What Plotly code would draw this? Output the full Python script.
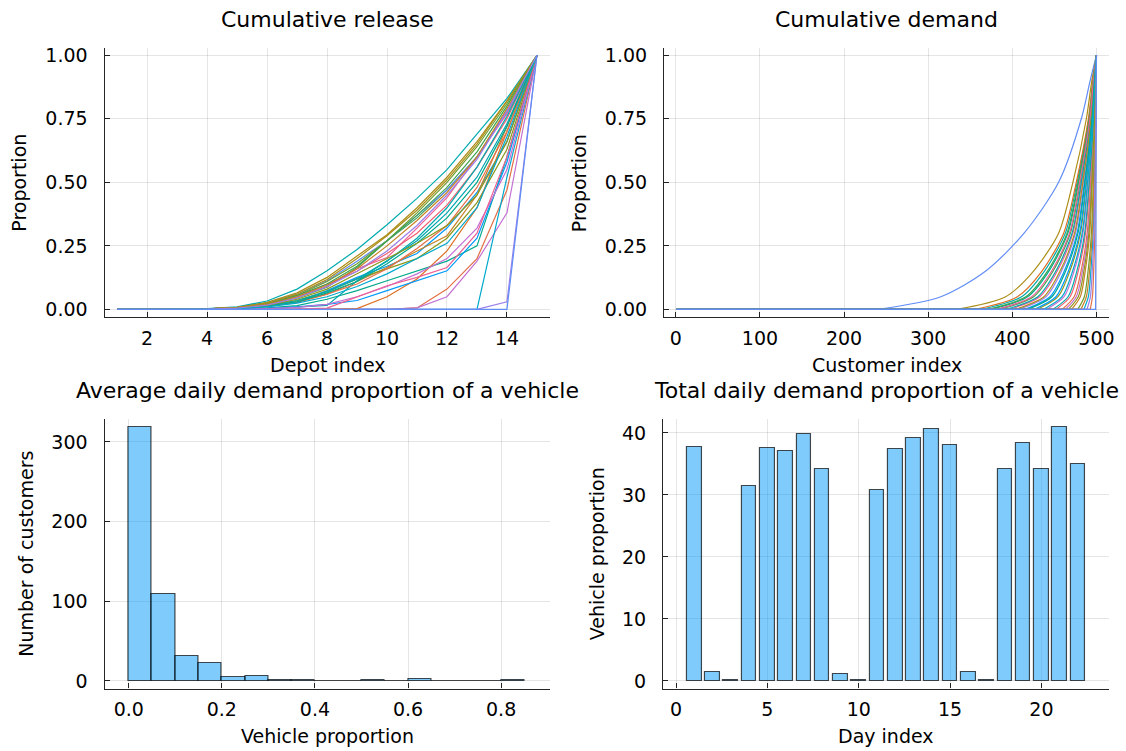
import plotly.graph_objects as go

# ---------------- data ----------------
palette = ["#009AFA", "#E36F47", "#3EA44E", "#C371D2", "#AC8E18", "#00AAAE",
           "#ED5E93", "#C68225", "#00A98D", "#8E971D", "#00A9CD", "#9B7FE9",
           "#618DF6", "#F05F73", "#DD7024", "#6F9E2E", "#00A5B2"]

depots = list(range(1, 16))
release_curves = [
    [0, 0, 0, 0.001, 0.004, 0.012, 0.030, 0.074, 0.126, 0.170, 0.220, 0.320, 0.460, 0.660, 1],
    [0, 0, 0, 0, 0, 0, 0, 0, 0, 0, 0.006, 0.080, 0.200, 0.470, 1],
    [0, 0, 0, 0.002, 0.006, 0.020, 0.045, 0.087, 0.165, 0.270, 0.360, 0.470, 0.600, 0.780, 1],
    [0, 0, 0, 0, 0, 0, 0, 0, 0, 0, 0.006, 0.050, 0.190, 0.380, 1],
    [0, 0, 0, 0.002, 0.008, 0.028, 0.065, 0.126, 0.210, 0.294, 0.400, 0.520, 0.660, 0.820, 1],
    [0, 0, 0, 0.003, 0.010, 0.033, 0.080, 0.152, 0.236, 0.333, 0.437, 0.550, 0.690, 0.830, 1],
    [0, 0, 0, 0.002, 0.006, 0.020, 0.050, 0.090, 0.160, 0.204, 0.320, 0.440, 0.600, 0.770, 1],
    [0, 0, 0, 0.001, 0.004, 0.012, 0.030, 0.060, 0.110, 0.165, 0.230, 0.290, 0.450, 0.720, 1],
    [0, 0, 0, 0, 0.002, 0.006, 0.015, 0.040, 0.074, 0.113, 0.150, 0.190, 0.250, 0.600, 1],
    [0, 0, 0, 0.001, 0.005, 0.015, 0.035, 0.070, 0.120, 0.160, 0.200, 0.280, 0.420, 0.630, 1],
    [0, 0, 0, 0, 0, 0, 0, 0, 0, 0, 0, 0, 0, 0.520, 1],
    [0, 0, 0, 0, 0, 0, 0, 0, 0, 0, 0, 0, 0, 0.030, 1],
    [0, 0, 0, 0.002, 0.007, 0.025, 0.060, 0.113, 0.190, 0.270, 0.370, 0.470, 0.600, 0.780, 1],
    [0, 0, 0, 0.002, 0.007, 0.022, 0.050, 0.100, 0.150, 0.220, 0.300, 0.410, 0.560, 0.750, 1],
    [0, 0, 0, 0, 0, 0, 0, 0, 0.003, 0.050, 0.120, 0.230, 0.400, 0.700, 1],
    [0, 0, 0, 0.002, 0.008, 0.025, 0.055, 0.110, 0.180, 0.270, 0.380, 0.500, 0.640, 0.810, 1],
    [0, 0, 0, 0, 0.001, 0.003, 0.008, 0.016, 0.113, 0.190, 0.270, 0.380, 0.520, 0.730, 1],
    [0, 0, 0, 0, 0.001, 0.004, 0.010, 0.020, 0.035, 0.074, 0.113, 0.152, 0.280, 0.580, 1],
    [0, 0, 0, 0.001, 0.004, 0.012, 0.028, 0.060, 0.100, 0.160, 0.240, 0.330, 0.480, 0.700, 1],
    [0, 0, 0, 0.002, 0.007, 0.022, 0.055, 0.100, 0.170, 0.270, 0.370, 0.480, 0.620, 0.800, 1],
    [0, 0, 0, 0, 0.001, 0.003, 0.008, 0.020, 0.050, 0.090, 0.140, 0.200, 0.320, 0.550, 1],
    [0, 0, 0, 0.002, 0.008, 0.026, 0.060, 0.118, 0.200, 0.290, 0.390, 0.510, 0.650, 0.820, 1],
    [0, 0, 0, 0.001, 0.005, 0.015, 0.035, 0.070, 0.120, 0.190, 0.280, 0.400, 0.560, 0.760, 1],
    [0, 0, 0, 0, 0, 0, 0.001, 0.005, 0.048, 0.093, 0.126, 0.165, 0.300, 0.600, 1],
    [0, 0, 0, 0.002, 0.007, 0.020, 0.050, 0.095, 0.160, 0.250, 0.350, 0.460, 0.600, 0.790, 1],
    [0, 0, 0, 0.001, 0.004, 0.013, 0.030, 0.065, 0.110, 0.180, 0.260, 0.360, 0.500, 0.720, 1],
    [0, 0, 0, 0.001, 0.005, 0.016, 0.040, 0.080, 0.140, 0.200, 0.260, 0.330, 0.450, 0.660, 1],
    [0, 0, 0, 0.001, 0.003, 0.010, 0.025, 0.050, 0.090, 0.140, 0.200, 0.260, 0.400, 0.680, 1],
    [0, 0, 0, 0.001, 0.005, 0.017, 0.045, 0.090, 0.150, 0.230, 0.330, 0.450, 0.590, 0.780, 1],
    [0, 0, 0, 0, 0, 0, 0, 0, 0, 0, 0, 0, 0, 0, 1],
]

# cumulative demand: customer index at which each curve reaches these proportions
n_customers = 500
demand_levels = [0.0, 0.05, 0.15, 0.30, 0.50, 0.75, 0.90]
demand_level_positions = [
    [414.5, 444.7, 461.6, 477.0, 485.6, 494.4, 497.5],
    [459.1, 473.5, 481.6, 489.0, 493.1, 497.3, 498.8],
    [384.8, 425.4, 448.3, 469.0, 480.6, 492.4, 496.6],
    [440.5, 461.5, 473.3, 484.0, 490.0, 496.1, 498.2],
    [333.0, 392.0, 425.0, 455.0, 472.0, 488.0, 494.5],
    [362.5, 411.0, 438.0, 463.0, 477.0, 491.0, 495.9],
    [396.0, 432.7, 453.3, 472.0, 482.5, 493.1, 496.9],
    [470.3, 480.8, 486.6, 492.0, 495.0, 498.0, 499.1],
    [373.6, 418.2, 443.3, 466.0, 478.8, 491.7, 496.3],
    [429.4, 454.3, 468.3, 481.0, 488.1, 495.3, 497.9],
    [485.1, 490.4, 493.3, 496.0, 497.5, 499.0, 499.6],
    [407.0, 440.0, 458.3, 475.0, 484.4, 493.9, 497.3],
    [240.0, 315.0, 368.0, 414.0, 455.0, 482.0, 492.5],
    [451.7, 468.7, 478.3, 487.0, 491.9, 496.8, 498.6],
    [355.0, 406.0, 435.0, 461.0, 476.0, 490.4, 495.7],
    [477.7, 485.6, 490.0, 494.0, 496.3, 498.5, 499.3],
    [392.2, 430.3, 451.6, 471.0, 481.9, 492.9, 496.8],
    [425.7, 451.9, 466.6, 480.0, 487.5, 495.1, 497.8],
    [492.6, 495.2, 496.7, 498.0, 498.8, 499.5, 499.8],
    [370.0, 416.0, 441.6, 465.0, 478.1, 491.4, 496.2],
    [462.8, 476.0, 483.3, 490.0, 493.8, 497.6, 498.9],
    [403.4, 437.5, 456.6, 474.0, 483.8, 493.6, 497.1],
    [448.0, 466.3, 476.6, 486.0, 491.3, 496.6, 498.5],
    [381.0, 423.0, 446.6, 468.0, 480.0, 492.2, 496.5],
    [481.4, 488.0, 491.7, 495.0, 496.9, 498.8, 499.5],
    [418.2, 447.1, 463.3, 478.0, 486.3, 494.6, 497.6],
    [466.5, 478.4, 485.0, 491.0, 494.4, 497.8, 499.0],
    [436.8, 459.1, 471.6, 483.0, 489.4, 495.8, 498.1],
    [488.8, 492.8, 495.0, 497.0, 498.1, 499.3, 499.7],
    [499.0, 499.05, 499.15, 499.3, 499.5, 499.75, 499.9],
]

# histogram of average daily demand proportion (bin width 0.05)
hist_bin_left = [0.00, 0.05, 0.10, 0.15, 0.20, 0.25, 0.30, 0.35, 0.40, 0.45,
                 0.50, 0.55, 0.60, 0.65, 0.70, 0.75, 0.80]
hist_counts = [319, 109, 31, 23, 5, 6, 1, 1, 0, 0, 1, 0, 2, 0, 0, 0, 1]
hist_bin_width = 0.05

# total daily demand proportion
days = list(range(1, 23))
day_totals = [37.7, 1.5, 0.1, 31.5, 37.5, 37.1, 39.8, 34.2, 1.1, 0.1, 30.8,
              37.4, 39.1, 40.6, 38.0, 1.4, 0.1, 34.2, 38.3, 34.1, 41.0, 34.9]

# ---------------- figure ----------------
W, H = 1126, 751
FONT = "DejaVu Sans"
TICK = 19
GUIDE = 19
TITLE = 22

fig = go.Figure()

for i, row in enumerate(release_curves):
    fig.add_trace(go.Scatter(x=depots, y=row, mode="lines",
                             line=dict(color=palette[i % 17], width=1.2),
                             xaxis="x", yaxis="y", showlegend=False))

n_dem = len(demand_level_positions)
for i, pos in enumerate(demand_level_positions):
    col = palette[i % 17]
    last = (i == n_dem - 1)
    if last:
        fig.add_trace(go.Scatter(x=[1] + pos + [n_customers],
                                 y=[0.0] + demand_levels + [1.0], mode="lines",
                                 line=dict(color=col, width=1.2),
                                 xaxis="x2", yaxis="y2", showlegend=False))
    else:
        # flat part before the rise
        fig.add_trace(go.Scatter(x=[1, pos[0]], y=[0.0, demand_levels[0]], mode="lines",
                                 line=dict(color=col, width=1.2),
                                 xaxis="x2", yaxis="y2", showlegend=False))
        # rising part
        fig.add_trace(go.Scatter(x=pos + [n_customers], y=demand_levels + [1.0], mode="lines",
                                 line=dict(color=col, width=1.2, shape="spline", smoothing=0.8),
                                 xaxis="x2", yaxis="y2", showlegend=False))

fig.add_trace(go.Bar(x=[b + hist_bin_width / 2 for b in hist_bin_left], y=hist_counts,
                     width=hist_bin_width,
                     marker=dict(color="rgba(0,154,250,0.5)",
                                 line=dict(color="rgba(0,0,0,0.7)", width=1.2)),
                     xaxis="x3", yaxis="y3", showlegend=False))

fig.add_trace(go.Bar(x=days, y=day_totals, width=0.8,
                     marker=dict(color="rgba(0,154,250,0.5)",
                                 line=dict(color="rgba(0,0,0,0.7)", width=1.2)),
                     xaxis="x4", yaxis="y4", showlegend=False))


def px_x(p):
    return p / W


def px_y(p):
    return 1 - p / H


def axis(domain, rng, tickvals, ticktext=None, anchor=None, standoff=10):
    d = dict(domain=domain, range=rng, tickvals=tickvals,
             showgrid=True, gridcolor="rgba(0,0,0,0.1)", gridwidth=1,
             zeroline=False, showline=True, linecolor="rgba(0,0,0,0.85)", linewidth=1.2,
             ticks="inside", ticklen=5, tickwidth=1.2, tickcolor="rgba(0,0,0,0.85)",
             tickfont=dict(family=FONT, size=TICK, color="black"),
             ticklabelstandoff=standoff, anchor=anchor, fixedrange=True)
    if ticktext is not None:
        d["ticktext"] = ticktext
    return d


xl = [px_x(105), px_x(552)]
xr1 = [px_x(667), px_x(1114)]
xr2 = [px_x(666), px_x(1114)]
yt = [px_y(316), px_y(44)]
yb = [px_y(691), px_y(419)]

prop_ticks = [0, 0.25, 0.5, 0.75, 1.0]
prop_text = ["0.00", "0.25", "0.50", "0.75", "1.00"]

fig.update_layout(
    width=W, height=H, margin=dict(l=0, r=0, t=0, b=0),
    paper_bgcolor="white", plot_bgcolor="white",
    font=dict(family=FONT, color="black"),
    bargap=0,
    xaxis=axis(xl, [0.58, 15.42], [2, 4, 6, 8, 10, 12, 14], anchor="y", standoff=4),
    yaxis=axis(yt, [-0.03, 1.03], prop_ticks, prop_text, anchor="x", standoff=12),
    xaxis2=axis(xr1, [-13.97, 514.97], [0, 100, 200, 300, 400, 500], anchor="y2", standoff=4),
    yaxis2=axis(yt, [-0.03, 1.03], prop_ticks, prop_text, anchor="x2", standoff=12),
    xaxis3=axis(xl, [-0.052, 0.904], [0, 0.2, 0.4, 0.6, 0.8],
                ["0.0", "0.2", "0.4", "0.6", "0.8"], anchor="y3", standoff=4),
    yaxis3=axis(yb, [-9.57, 328.6], [0, 100, 200, 300], anchor="x3", standoff=12),
    xaxis4=axis(xr2, [-0.71, 23.7], [0, 5, 10, 15, 20], anchor="y4", standoff=4),
    yaxis4=axis(yb, [-1.23, 42.23], [0, 10, 20, 30, 40], anchor="x4", standoff=12),
)

anns = []


def ann(text, x, y, size, angle=0):
    anns.append(dict(text=text, x=px_x(x), y=px_y(y), xref="paper", yref="paper",
                     showarrow=False, xanchor="center", yanchor="middle",
                     textangle=angle, font=dict(family=FONT, size=size, color="black")))


ann("Cumulative release", 328.5, 16, TITLE)
ann("Cumulative demand", 890.5, 16, TITLE)
ann("Average daily demand proportion of a vehicle", 328.5, 390, TITLE)
ann("Total daily demand proportion of a vehicle", 890, 390, TITLE)
ann("Depot index", 328.5, 364, GUIDE)
ann("Customer index", 890.5, 364, GUIDE)
ann("Vehicle proportion", 328.5, 739, GUIDE)
ann("Day index", 890, 739, GUIDE)
ann("Proportion", 19, 180.5, GUIDE, -90)
ann("Proportion", 581, 180.5, GUIDE, -90)
ann("Number of customers", 26, 555, GUIDE, -90)
ann("Vehicle proportion", 599, 555, GUIDE, -90)
fig.update_layout(annotations=anns)

fig.write_html("out.html", config={"displayModeBar": False},
               post_script="document.body.style.margin='0';")
